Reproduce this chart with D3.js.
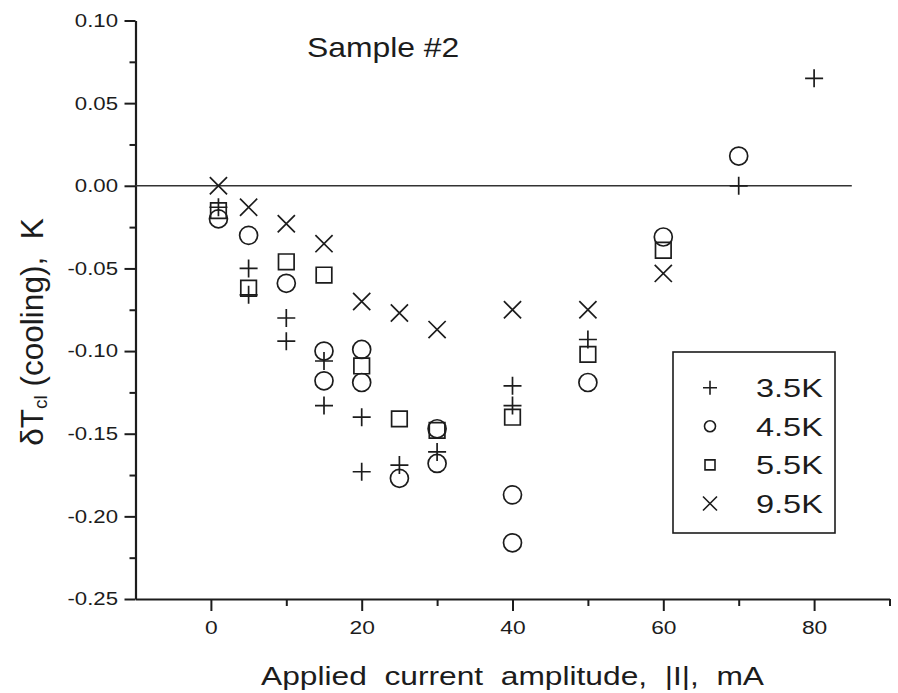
<!DOCTYPE html>
<meta charset="utf-8">

<!-- Load d3.js -->
<script src="https://d3js.org/d3.v7.min.js"></script>

<style>
  body { margin: 0; background: #fff; }
  text { font-family: "Liberation Sans", Arial, sans-serif; fill: #1c1c1c; }
</style>

<!-- Create a div where the graph will take place -->
<div id="my_dataviz"></div>

<script>

// values (current in mA, dT in K)
const cur35 = [1, 5, 5, 10, 10, 15, 15, 20, 20, 25, 30, 40, 40, 50, 70, 80];
const dT35  = [-0.013, -0.050, -0.066, -0.080, -0.094, -0.106, -0.133, -0.140, -0.173, -0.169, -0.161, -0.121, -0.133, -0.093, 0.000, 0.065];

const cur45 = [1, 5, 10, 15, 15, 20, 20, 25, 30, 30, 40, 40, 50, 60, 70];
const dT45  = [-0.020, -0.030, -0.059, -0.100, -0.118, -0.099, -0.119, -0.177, -0.147, -0.168, -0.187, -0.216, -0.119, -0.031, 0.018];

const cur55 = [1, 5, 10, 15, 20, 25, 30, 40, 50, 60];
const dT55  = [-0.015, -0.062, -0.046, -0.054, -0.109, -0.141, -0.148, -0.140, -0.102, -0.039];

const cur95 = [1, 5, 10, 15, 20, 25, 30, 40, 50, 60];
const dT95  = [0.000, -0.013, -0.023, -0.035, -0.070, -0.077, -0.087, -0.075, -0.075, -0.053];

const legendLabels = ["3.5K", "4.5K", "5.5K", "9.5K"];
const shapes = ["plus", "circle", "square", "cross"];

const xTicks = [0, 20, 40, 60, 80];
const xMinor = [10, 30, 50, 70, 90];
const yTicks = [0.10, 0.05, 0.00, -0.05, -0.10, -0.15, -0.20, -0.25];
const yMinor = [0.075, 0.025, -0.025, -0.075, -0.125, -0.175, -0.225];

const series = [
    {xs: cur35, ys: dT35},
    {xs: cur45, ys: dT45},
    {xs: cur55, ys: dT55},
    {xs: cur95, ys: dT95}
].map((s, i) => ({name: legendLabels[i], shape: shapes[i], pts: s.xs.map((c, j) => [c, s.ys[j]])}));

const width = 898, height = 693;
const ink = "#1c1c1c";

const svg = d3.select("#my_dataviz")
    .append("svg")
    .attr("width", width)
    .attr("height", height);

svg.append("rect").attr("width", width).attr("height", height).attr("fill", "#fff");

const x = d3.scaleLinear().domain([-10, 90]).range([135.5, 889.5]);
const y = d3.scaleLinear().domain([-0.25, 0.10]).range([599, 20.5]);

// marker outlines, r = half size
function markerPath(shape, r) {
    if (shape === "plus") return `M${-r},0H${r}M0,${-r}V${r}`;
    if (shape === "cross") return `M${-r},${-r}L${r},${r}M${-r},${r}L${r},${-r}`;
    if (shape === "square") return `M${-r},${-r}H${r}V${r}H${-r}Z`;
    return `M${r},0A${r},${r} 0 1,1 ${-r},0A${r},${r} 0 1,1 ${r},0`;
}
const plotSize = {plus: 9, circle: 9, square: 7.8, cross: 8.6};
const legSize = {plus: 7, circle: 5.5, square: 5, cross: 7};

// x axis
const xAxis = svg.append("g")
    .attr("transform", `translate(0,${y(-0.25)})`)
    .call(d3.axisBottom(x).tickValues(xTicks).tickSize(12).tickSizeOuter(0).tickPadding(10).tickFormat(d3.format("d")));
svg.append("g")
    .attr("transform", `translate(0,${y(-0.25)})`)
    .call(d3.axisBottom(x).tickValues(xMinor).tickSize(7).tickSizeOuter(0).tickFormat(""))
    .call(g => g.select(".domain").remove());
xAxis.selectAll("text")
    .style("font-size", "19px")
    .attr("transform", "scale(1.2,1)");

// y axis
const yAxis = svg.append("g")
    .attr("transform", `translate(${x(-10)},0)`)
    .call(d3.axisLeft(y).tickValues(yTicks).tickSize(11).tickSizeOuter(0).tickPadding(8).tickFormat(d => d.toFixed(2)));
svg.append("g")
    .attr("transform", `translate(${x(-10)},0)`)
    .call(d3.axisLeft(y).tickValues(yMinor).tickSize(6).tickSizeOuter(0).tickFormat(""))
    .call(g => g.select(".domain").remove());
yAxis.selectAll("text")
    .style("font-size", "18.5px")
    .attr("x", -17.5 / 1.2)
    .attr("transform", "scale(1.2,1)");

svg.selectAll(".domain").attr("stroke", ink).attr("stroke-width", 2.2);
svg.selectAll(".tick line").attr("stroke", ink).attr("stroke-width", 2);
svg.selectAll(".tick text").style("fill", ink).style("font-family", '"Liberation Sans", Arial, sans-serif');

// zero line
svg.append("line")
    .attr("x1", x(-10)).attr("x2", x(85))
    .attr("y1", y(0)).attr("y2", y(0))
    .attr("stroke", "#333")
    .attr("stroke-width", 1.5);

// points
series.forEach(s => {
    svg.selectAll(null)
        .data(s.pts)
        .enter()
        .append("path")
        .attr("transform", d => `translate(${x(d[0])},${y(d[1])})`)
        .attr("d", markerPath(s.shape, plotSize[s.shape]))
        .attr("fill", "none")
        .attr("stroke", ink)
        .attr("stroke-width", 1.7);
});

// title
svg.append("text")
    .attr("transform", "translate(307,57) scale(1.18,1)")
    .style("font-size", "27px")
    .text("Sample #2");

// x label
svg.append("text")
    .attr("transform", `translate(${(x(-10) + x(90)) / 2},685) scale(1.22,1)`)
    .attr("text-anchor", "middle")
    .style("font-size", "26px")
    .style("white-space", "pre")
    .text("Applied  current  amplitude,  |I|,  mA");

// y label
const yl = svg.append("text")
    .attr("transform", "translate(43,332) rotate(-90)")
    .attr("text-anchor", "middle")
    .style("font-size", "31.5px")
    .style("white-space", "pre");
yl.append("tspan").text("\u03b4T");
yl.append("tspan").attr("dy", 4).style("font-size", "19px").text("cl");
yl.append("tspan").attr("dy", -4).text(" (cooling),  K");

// legend
const leg = svg.append("g");
leg.append("rect")
    .attr("x", 673).attr("y", 352)
    .attr("width", 162).attr("height", 181)
    .attr("fill", "#fff")
    .attr("stroke", ink)
    .attr("stroke-width", 1.6);
series.forEach((s, i) => {
    const cy = 387.7 + i * 38.6;
    leg.append("path")
        .attr("transform", `translate(710,${cy})`)
        .attr("d", markerPath(s.shape, legSize[s.shape]))
        .attr("fill", "none")
        .attr("stroke", ink)
        .attr("stroke-width", 1.6);
    leg.append("text")
        .attr("transform", `translate(756,${cy + 9.3}) scale(1.25,1)`)
        .style("font-size", "26px")
        .text(s.name);
});

</script>
